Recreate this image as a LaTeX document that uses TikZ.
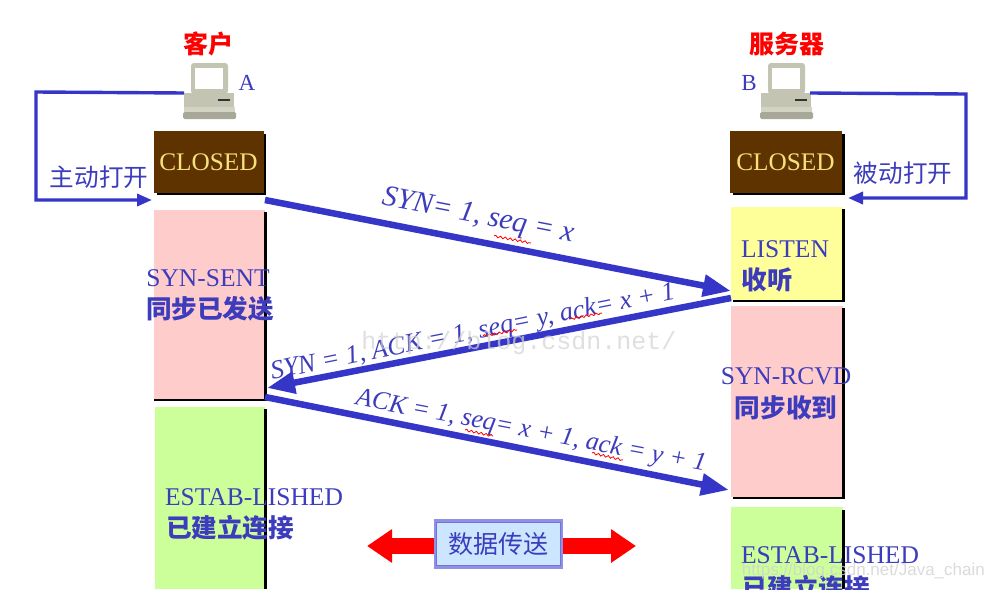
\documentclass[tikz,border=0pt]{standalone}
\usepackage{fontspec}
\setmainfont{Liberation Serif}
\setsansfont{Liberation Sans}
\setmonofont{Liberation Mono}
\newfontfamily\cjk{Noto Sans CJK SC}
\usetikzlibrary{arrows.meta,decorations.pathmorphing,calc}
\definecolor{inkblue}{HTML}{3535C8}
\definecolor{txtblue}{HTML}{3C3CBC}
\definecolor{brownbox}{HTML}{5F3300}
\definecolor{closedtxt}{HTML}{F5E07A}
\definecolor{pinkbox}{HTML}{FFCCCC}
\definecolor{greenbox}{HTML}{CCFF99}
\definecolor{yellowbox}{HTML}{FFFF99}
\definecolor{databox}{HTML}{CCE6FF}
\definecolor{databorder}{HTML}{9090E6}
\definecolor{pcdark}{HTML}{A8A898}
\definecolor{pcmid}{HTML}{C4C4B2}
\definecolor{pclight}{HTML}{D4D4C4}
\tikzset{
  x=1pt,y=-1pt,
  statebox/.style={anchor=north west,inner sep=0pt,outer sep=0pt},
  closedbox/.style={statebox,fill=brownbox,minimum width=110pt,minimum height=62pt,text=closedtxt,font=\fontsize{25.3}{25.3}\selectfont},
  edgeline/.style={black,line width=2.5pt},
  loopline/.style={inkblue,line width=3.4pt,-{Triangle[length=15pt,width=12pt]}},
  msgline/.style={inkblue,line width=6.5pt,-{Triangle[length=28pt,width=21pt]}},
  msgtext/.style={txtblue,font=\itshape\fontsize{26}{26}\selectfont,inner sep=0pt},
  cjklabel/.style={txtblue,font=\cjk\fontsize{24.6}{24.6}\selectfont,inner sep=0pt},
  cjkbold/.style={txtblue,font=\cjk\bfseries\fontsize{25.6}{25.6}\selectfont,inner sep=0pt},
  title/.style={red,font=\cjk\bfseries\fontsize{25}{25}\selectfont,inner sep=0pt},
  statetext/.style={txtblue,font=\fontsize{25.5}{25.5}\selectfont,inner sep=0pt},
  squiggle/.style={red,line width=.8pt,decorate,decoration={snake,amplitude=1.1pt,segment length=5pt}},
}
\begin{document}
\begin{tikzpicture}
\useasboundingbox (0,0) rectangle (992,589);
\clip (0,0) rectangle (992,589);
\fill[white] (0,0) rectangle (992,589);
% state boxes
\fill[black] (157,134) rectangle (266,195);
\node[closedbox] (closedA) at (153.5,131) {CLOSED};
\fill[black] (733,134) rectangle (845,195);
\node[closedbox,minimum width=112pt] (closedB) at (729.5,131) {CLOSED};
\fill[pinkbox] (154,210) rectangle (265,399);
\draw[edgeline] (265.5,212) -- (265.5,400) -- (154,400);
\coordinate (sentEnd) at (265,397);
\fill[greenbox] (155,407) rectangle (265,589);
\draw[edgeline] (265.5,409) -- (265.5,589);
\fill[yellowbox] (731,207) rectangle (843,300);
\draw[edgeline] (843.5,209) -- (843.5,301) -- (733,301);
\fill[pinkbox] (731,306) rectangle (843,497);
\draw[edgeline] (843.5,308) -- (843.5,498) -- (733,498);
\fill[greenbox] (731,507) rectangle (843,589);
\draw[edgeline] (843.5,510) -- (843.5,589);
% computers
\foreach \dx/\nm in {0/A,577/B}{
\begin{scope}[xshift=\dx pt]
\fill[pcmid,rounded corners=3pt] (191,63) rectangle (228,94);
\fill[white] (195,68) rectangle (223,89);
\fill[pcmid] (184,93) rectangle (234,107);
\fill[pclight] (184,107) rectangle (235,112);
\fill[pcdark,rounded corners=1.5pt] (183,112) rectangle (236,119);
\draw[black!80,line width=1.2pt] (218,100) -- (230,100);
\coordinate (pc\nm L) at (184,93);
\coordinate (pc\nm R) at (233,93);
\end{scope}}
% loops
\coordinate (openA) at (152,200);
\coordinate (openB) at (848,198);
\draw[loopline] (pcAL) -- (36,92) -- (36,200) -- (openA);
\draw[loopline] (pcBR) -- (966,94) -- (966,198) -- (openB);
% titles and loop labels
\node[title] (tA) at (208,44) {客户};
\node[title] (tB) at (787,44) {服务器};
\node[txtblue,inner sep=0pt,font=\fontsize{23}{23}\selectfont] (lA) at (247,83) {A};
\node[txtblue,inner sep=0pt,font=\fontsize{23}{23}\selectfont] (lB) at (749,83) {B};
\node[cjklabel] (act) at (99,177) {主动打开};
\node[cjklabel] (pas) at (903,173) {被动打开};
% messages
\coordinate (m1s) at (265,200);
\coordinate (m1e) at (731,291);
\coordinate (m2s) at (731,298);
\coordinate (m2e) at (267,388);
\coordinate (m3e) at (729,490);
\draw[msgline] (m1s) -- (m1e);
\draw[msgline] (m2s) -- (m2e);
\draw[msgline] (sentEnd) -- (m3e);
\node[msgtext,rotate=-11,font=\itshape\fontsize{29.5}{29.5}\selectfont] (t1) at (478,217) {SYN= 1, seq = x};
\node[msgtext,rotate=11.3,font=\itshape\fontsize{26.4}{26.4}\selectfont] (t2) at (473,333) {SYN = 1, ACK = 1, seq= y, ack= x + 1};
\node[msgtext,rotate=-10.8] (t3) at (531,432) {ACK = 1, seq= x + 1, ack = y + 1};
\draw[squiggle] (494,236) -- (531,243);
\draw[squiggle] (483,336) -- (517,330);
\draw[squiggle] (570,319) -- (602,313);
\draw[squiggle] (465,430) -- (493,436);
\draw[squiggle] (592,453) -- (623,460);
% state text
\node[statetext] (s1) at (208,278) {SYN-SENT};
\node[cjkbold] (s1c) at (210,309) {同步已发送};
\node[statetext] (s2) at (785,249) {LISTEN};
\node[cjkbold] (s2c) at (767,280) {收听};
\node[statetext] (s3) at (786,376) {SYN-RCVD};
\node[cjkbold] (s3c) at (786,408) {同步收到};
\node[statetext] (s4) at (254,497) {ESTAB-LISHED};
\node[cjkbold] (s4c) at (230,528) {已建立连接};
\node[statetext] (s5) at (830,555) {ESTAB-LISHED};
\node[cjkbold] (s5c) at (806,588) {已建立连接};
% data transfer
\coordinate (dl) at (367,546);
\coordinate (dr) at (636,546);
\draw[red,line width=16pt,{Triangle[length=25pt,width=32pt]}-{Triangle[length=25pt,width=32pt]}] (dl) -- (dr);
\node[anchor=center,fill=databox,draw=databorder,line width=2.5pt,minimum width=127pt,minimum height=47pt,inner sep=0pt,text=txtblue,font=\cjk\fontsize{25}{25}\selectfont] (data) at (498.5,544) {数据传送};
\draw[inkblue!70,line width=.7pt] ($(data.south west)+(3,-3)$) rectangle ($(data.north east)+(-3,3)$);
% watermarks
\node[gray!35,opacity=.7,font=\ttfamily\fontsize{25}{25}\selectfont,inner sep=0pt] (wm1) at (519,343) {http://blog.csdn.net/};
\node[gray!35,opacity=.8,font=\sffamily\fontsize{17}{17}\selectfont,inner sep=0pt,anchor=east] (wm2) at (985,571) {https://blog.csdn.net/Java\_chain};
\end{tikzpicture}
\end{document}
